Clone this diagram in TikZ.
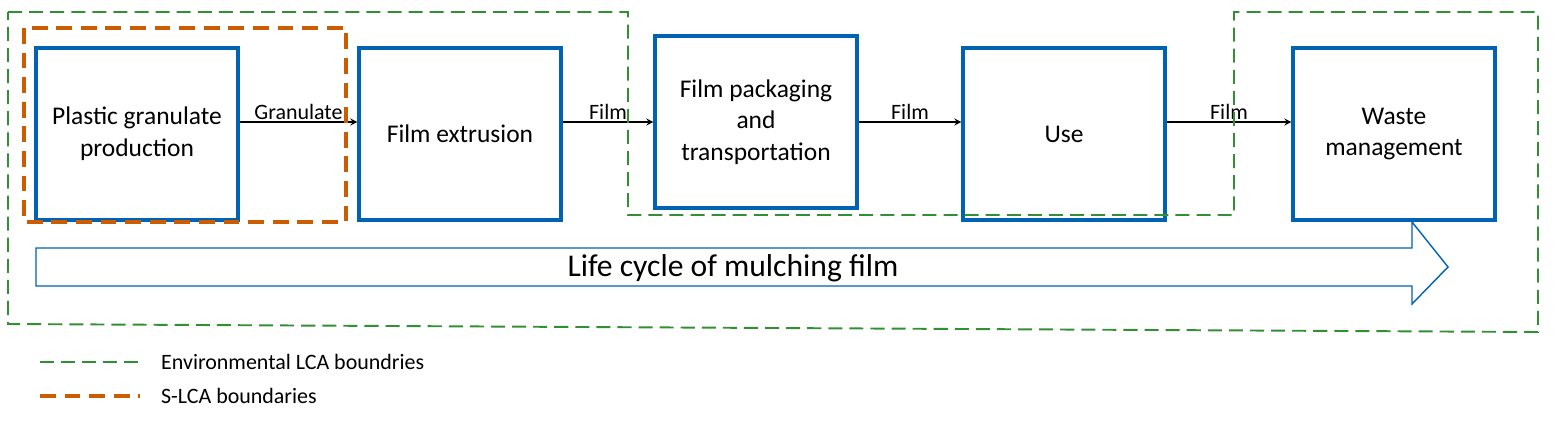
\documentclass[tikz,border=0pt]{standalone}
\usepackage{fontspec}
\setmainfont{Carlito}
\usetikzlibrary{positioning}
\colorlet{boxblue}{blue!45!cyan!70!black}
\colorlet{envgreen}{green!45!black!80}
\colorlet{slcaorange}{orange!90!red!80!black}
\tikzstyle{stage}=[draw=boxblue,line width=1.8pt,minimum width=4.04cm,minimum height=3.44cm,align=center,font=\fontsize{14.5}{18}\selectfont]
\tikzstyle{flow}=[->,>=stealth,thick]
\tikzstyle{lbl}=[font=\fontsize{12.5}{14}\selectfont,above,inner sep=1pt]
\tikzstyle{envline}=[envgreen,line width=1.1pt,dash pattern=on 8pt off 4pt]
\tikzstyle{slcaline}=[slcaorange,line width=2pt,dash pattern=on 9pt off 5pt]

\begin{document}
\begin{tikzpicture}[x=0.02cm,y=-0.02cm]
  \useasboundingbox (0,0) rectangle (1556,423);

  \node[stage] (p) at (137,134) {Plastic granulate\\production};
  \node[stage] (e) at (460,134) {Film extrusion};
  \node[stage] (t) at (756,122) {Film packaging\\and\\transportation};
  \node[stage] (u) at (1064,134) {Use};
  \node[stage] (w) at (1394,134) {Waste\\management};

  \draw[flow] (p.east|-0,122) -- node[lbl]{Granulate} (e.west|-0,122);
  \draw[flow] (e.east|-0,122) -- node[lbl]{Film} (t.west|-0,122);
  \draw[flow] (t.east|-0,122) -- node[lbl]{Film} (u.west|-0,122);
  \draw[flow] (u.east|-0,122) -- node[lbl]{Film} (w.west|-0,122);

  % boundaries
  \draw[slcaline] (24,28) rectangle (346,222);
  \draw[envline] (8,12) -- (628,12) -- (628,215) -- (1234,215) -- (1234,12)
    -- (1538,12) -- (1538,332) -- (8,324) -- cycle;

  % life cycle arrow
  \draw[boxblue,thick,fill=white] (36,248) -- (1412,248) -- (1412,222) -- (1448,267)
    -- (1412,304) -- (1412,286) -- (36,286) -- cycle;
  \node[font=\fontsize{18}{21}\selectfont] (lc) at (733,268) {Life cycle of mulching film};

  % legend
  \coordinate (g1) at (40,362); \coordinate (g2) at (140,362);
  \coordinate (o1) at (40,396); \coordinate (o2) at (140,396);
  \draw[envline] (g1) -- (g2);
  \draw[slcaline] (o1) -- (o2);
  \node[right=0.3cm of g2,font=\fontsize{12.5}{14}\selectfont] (gl) {Environmental LCA boundries};
  \node[right=0.3cm of o2,font=\fontsize{12.5}{14}\selectfont] (ol) {S-LCA boundaries};
\end{tikzpicture}
\end{document}
